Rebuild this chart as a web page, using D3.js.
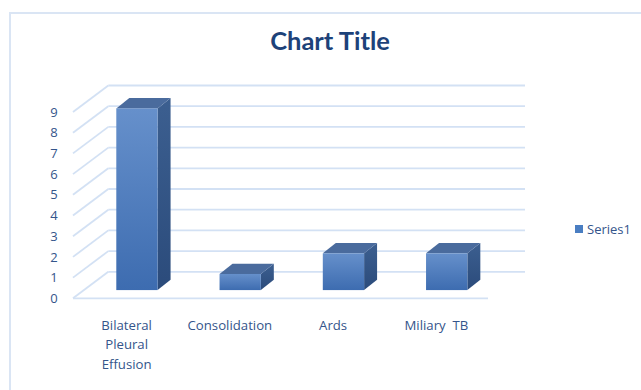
<!DOCTYPE html>
<html>
<head>
<meta charset="utf-8">
<script src="https://cdn.jsdelivr.net/npm/d3@7"></script>
<style>
  html, body { margin: 0; padding: 0; background: #ffffff; }
  svg { display: block; }
</style>
</head>
<body>
<svg id="chart" width="641" height="390"></svg>
<script>
// Chart data
const categories = ["Bilateral Pleural Effusion", "Consolidation", "Ards", "Miliary  TB"];
const categoryLines = [["Bilateral", "Pleural", "Effusion"], ["Consolidation"], ["Ards"], ["Miliary  TB"]];
const series1 = [9, 1, 2, 2];
const yTicks = [0, 1, 2, 3, 4, 5, 6, 7, 8, 9];
const seriesName = "Series1";
const chartTitle = "Chart Title";

const svg = d3.select("#chart");
const W = 641, H = 390;

// Outer chart-area frame
svg.append("path")
  .attr("d", `M10,${H} L10,13 L${W},13`)
  .attr("fill", "none")
  .attr("stroke", "#dae5f4")
  .attr("stroke-width", 2);

// Front plane geometry
const floorLeft = 75, floorRight = 488;
const x = d3.scaleBand()
  .domain(categories)
  .range([floorLeft, floorRight])
  .paddingInner(0.6)
  .paddingOuter(0.3);
const y = d3.scaleLinear().domain([0, 9]).range([298.3, 112]);

// Oblique depth: full wall depth offset
const depthDX = 33.3, depthDY = -26.5;
const backRight = 525;

const gridColor = "#d3e1f4";
const grid = svg.append("g").attr("fill", "none").attr("stroke", gridColor).attr("stroke-width", 1.8);

// Back wall gridlines
grid.selectAll("line.back")
  .data(yTicks)
  .join("line")
  .attr("class", "back")
  .attr("x1", floorLeft + depthDX)
  .attr("x2", backRight)
  .attr("y1", d => y(d) + depthDY)
  .attr("y2", d => y(d) + depthDY);

// Side wall gridlines (diagonals)
grid.selectAll("line.side")
  .data(yTicks)
  .join("line")
  .attr("class", "side")
  .attr("x1", floorLeft - 2)
  .attr("y1", d => y(d))
  .attr("x2", floorLeft + depthDX)
  .attr("y2", d => y(d) + depthDY);

// Floor front edge
grid.append("line")
  .attr("x1", floorLeft - 2).attr("x2", floorRight)
  .attr("y1", y(0)).attr("y2", y(0));

// Y axis labels
const labelColor = "#34558b";
svg.append("g")
  .selectAll("text")
  .data(yTicks)
  .join("text")
  .attr("x", 54)
  .attr("y", d => y(d))
  .attr("dy", "0.36em")
  .attr("text-anchor", "middle")
  .attr("font-family", "'Open Sans', sans-serif")
  .attr("font-size", 13)
  .attr("fill", labelColor)
  .text(d => d);

// Gradients for bar faces
const defs = svg.append("defs");
const gFront = defs.append("linearGradient").attr("id", "gFront").attr("x1", 0).attr("y1", 0).attr("x2", 0).attr("y2", 1);
gFront.append("stop").attr("offset", "0%").attr("stop-color", "#6690cb");
gFront.append("stop").attr("offset", "100%").attr("stop-color", "#3d6cb0");
const gSide = defs.append("linearGradient").attr("id", "gSide").attr("x1", 0).attr("y1", 0).attr("x2", 0).attr("y2", 1);
gSide.append("stop").attr("offset", "0%").attr("stop-color", "#3c5f90");
gSide.append("stop").attr("offset", "100%").attr("stop-color", "#2b4b7b");

// Bars sit between these depth fractions
const dFront = 0.31, dBack = 0.70;
const barShrink = 4.6; // perspective foreshortening of the bar tops
const baseY = y(0) + dFront * depthDY;
const fdx = dFront * depthDX, fdy = dFront * depthDY;
const sdx = (dBack - dFront) * depthDX, sdy = (dBack - dFront) * depthDY;

const bars = svg.append("g")
  .selectAll("g")
  .data(categories.map((c, i) => ({ c, v: series1[i] })))
  .join("g");

bars.each(function (d) {
  const g = d3.select(this);
  const x0 = x(d.c) + fdx;
  const x1 = x0 + x.bandwidth();
  const top = y(d.v) + fdy + barShrink;
  // side face
  g.append("path")
    .attr("d", `M${x1},${top} L${x1 + sdx},${top + sdy} L${x1 + sdx},${baseY + sdy} L${x1},${baseY} Z`)
    .attr("fill", "url(#gSide)");
  // top face
  g.append("path")
    .attr("d", `M${x0},${top} L${x1},${top} L${x1 + sdx},${top + sdy} L${x0 + sdx},${top + sdy} Z`)
    .attr("fill", "#4a6b9d");
  // front face
  g.append("rect")
    .attr("x", x0).attr("y", top)
    .attr("width", x.bandwidth())
    .attr("height", baseY - top)
    .attr("fill", "url(#gFront)");
});

// Category labels
const catG = svg.append("g")
  .attr("font-family", "'Open Sans', sans-serif")
  .attr("font-size", 13.2)
  .attr("fill", labelColor)
  .attr("text-anchor", "middle");
categories.forEach((c, i) => {
  const t = catG.append("text")
    .attr("x", x(c) + x.bandwidth() / 2)
    .attr("y", 329.5)
    .attr("xml:space", "preserve");
  categoryLines[i].forEach((line, j) => {
    t.append("tspan")
      .attr("x", x(c) + x.bandwidth() / 2)
      .attr("dy", j === 0 ? 0 : 19.7)
      .text(line);
  });
});

// Title
svg.append("text")
  .attr("x", 330)
  .attr("y", 50)
  .attr("text-anchor", "middle")
  .attr("font-family", "Lato, sans-serif")
  .attr("font-weight", 700)
  .attr("font-size", 25.5)
  .attr("fill", "#1d4279")
  .text(chartTitle);

// Legend
const leg = svg.append("g").attr("transform", "translate(575,225)");
leg.append("rect").attr("width", 8).attr("height", 8).attr("fill", "#4a7ec2");
leg.append("text")
  .attr("x", 12).attr("y", 4)
  .attr("dy", "0.36em")
  .attr("font-family", "'Open Sans', sans-serif")
  .attr("font-size", 13)
  .attr("fill", labelColor)
  .text(seriesName);
</script>
</body>
</html>
